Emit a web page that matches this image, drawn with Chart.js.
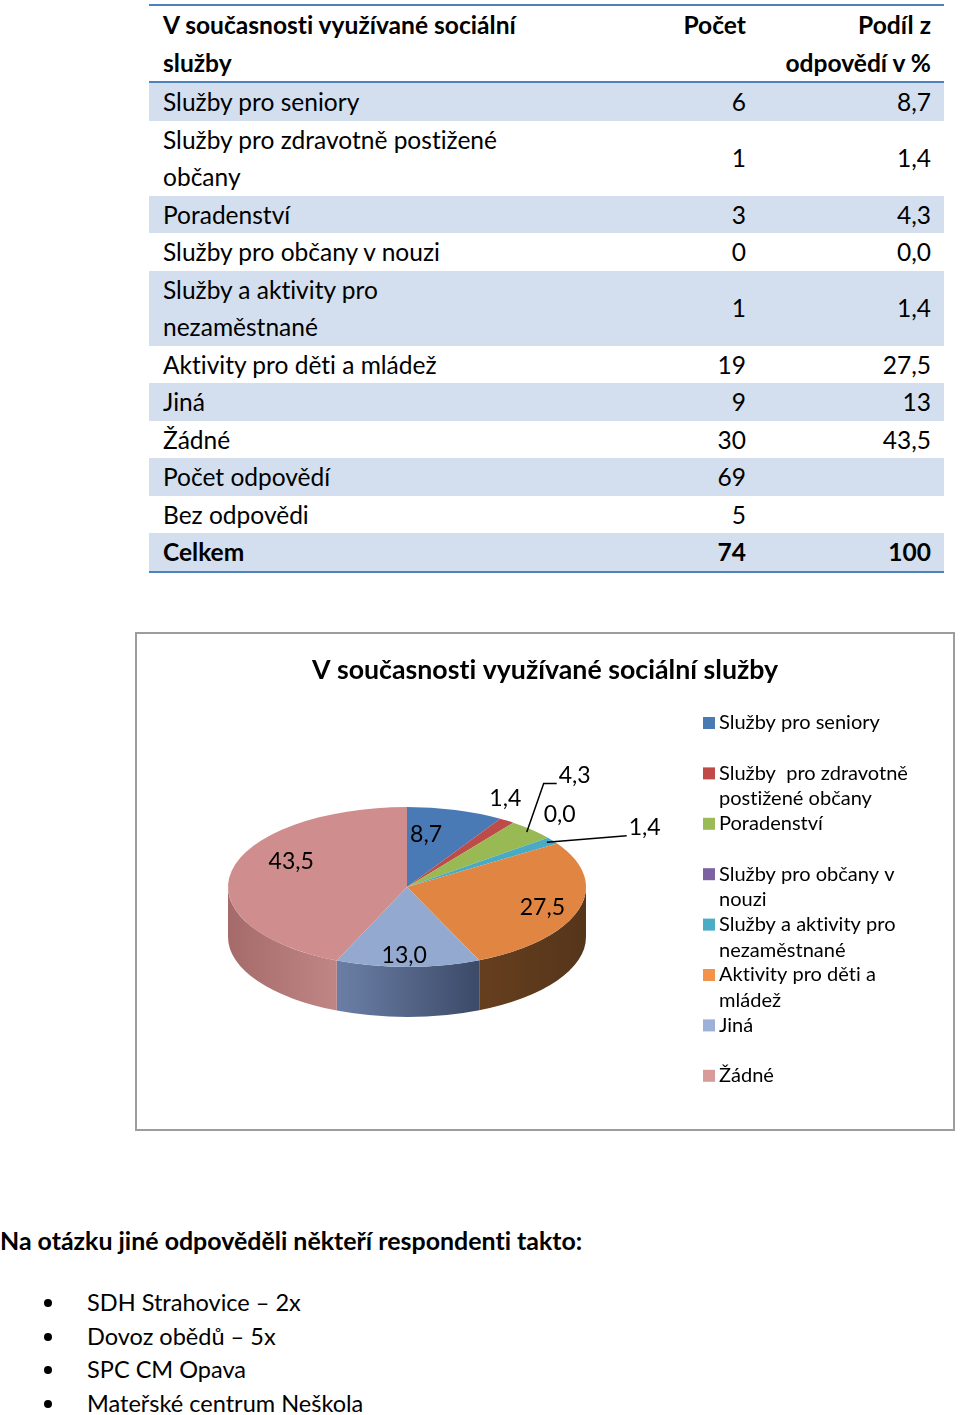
<!DOCTYPE html>
<html lang="cs">
<head>
<meta charset="utf-8">
<script src="https://cdn.jsdelivr.net/npm/chart.js@4.4.1/dist/chart.umd.min.js"></script>
<style>
  html,body{margin:0;padding:0;background:#fff;}
  body{width:960px;height:1415px;position:relative;overflow:hidden;font-family:Lato,"Open Sans",sans-serif;color:#000;font-variant-ligatures:none;}
  #tbl{position:absolute;left:149px;top:4px;width:795px;border-collapse:collapse;table-layout:fixed;
       border-top:2px solid #4f81bd;border-bottom:2px solid #4f81bd;}
  #tbl td,#tbl th{padding:0;line-height:37.5px;vertical-align:middle;white-space:normal;}
  #tbl th{font-weight:bold;vertical-align:top;border-bottom:2px solid #4f81bd;}
  #tbl .c1{text-align:left;padding-left:14px;padding-right:29px;}
  #tbl .c2{text-align:right;padding-right:14px;}
  #tbl .c3{text-align:right;padding-right:13px;}
  #tbl tr.sh td{background:#d3dfee;}
  #tbl tr.bold td{font-weight:bold;}
  #box{position:absolute;left:135px;top:632px;width:816px;height:495px;border:2px solid #9d9d9d;}
  #note{position:absolute;left:0;top:1222px;line-height:36px;font-weight:bold;white-space:nowrap;}
  #list{position:absolute;left:0;top:1286px;margin:0;padding:0;list-style:none;}
  #list li{position:relative;padding-left:87px;line-height:33.7px;white-space:nowrap;}
  #list li::before{content:"";position:absolute;left:44px;top:50%;width:8px;height:8px;margin-top:-4px;border-radius:50%;background:#000;}
</style>
</head>
<body>
<table id="tbl">
  <colgroup><col style="width:411px"><col style="width:200px"><col style="width:184px"></colgroup>
  <thead id="thead"></thead>
  <tbody id="tbody"></tbody>
</table>

<div id="box"><canvas id="chart" width="816" height="495" style="width:816px;height:495px;display:block"></canvas></div>

<div id="note"></div>
<ul id="list"></ul>

<script>
// ---------------- data ----------------
const tableHeader = ['V současnosti využívané sociální služby', 'Počet', 'Podíl z odpovědí v %'];
const categories = ['Služby pro seniory','Služby pro zdravotně postižené občany','Poradenství','Služby pro občany v nouzi','Služby a aktivity pro nezaměstnané','Aktivity pro děti a mládež','Jiná','Žádné'];
const counts = [6, 1, 3, 0, 1, 19, 9, 30];
const percents = [8.7, 1.4, 4.3, 0.0, 1.4, 27.5, 13.0, 43.5];
const percentTexts = ['8,7','1,4','4,3','0,0','1,4','27,5','13','43,5'];
const summaryLabels = ['Počet odpovědí','Bez odpovědi','Celkem'];
const summaryCounts = [69, 5, 74];
const summaryPercents = ['', '', '100'];
const chartTitle = 'V současnosti využívané sociální služby';
const legendLabels = ['Služby pro seniory','Služby  pro zdravotně\npostižené občany','Poradenství','Služby pro občany v\nnouzi','Služby a aktivity pro\nnezaměstnané','Aktivity pro děti a\nmládež','Jiná','Žádné'];
const noteTitle = 'Na otázku jiné odpověděli někteří respondenti takto:';
const noteItems = ['SDH Strahovice – 2x','Dovoz obědů – 5x','SPC CM Opava','Mateřské centrum Neškola'];

// ---------------- styles ----------------
const FAM = 'Lato';
const faceColors = ['#4a7ab5','#bd4b48','#98b954','#7d62a0','#49aac4','#e08542','#94a9d0','#d08d8d'];
const legendColors = ['#4a7ab4','#be4b48','#9bbb59','#7c62a0','#4bacc6','#f29349','#9cb0d8','#d99a9a'];
const sideLeft  = ['#3b5f8d','#8f3735','#728a40','#5c4777','#367f93','#663f1e','#6b7fa6','#a56a6a'];
const sideRight = ['#2e4a6e','#7a2e2c','#5e7234','#4b3a62','#2c6878','#55351a','#3c4a68','#c08585'];

const mctx = document.createElement('canvas').getContext('2d');
function fitPx(text, weight, target){
  mctx.font = weight + ' 100px ' + FAM;
  return 100 * target / mctx.measureText(text).width;
}
const tablePx  = fitPx('Služby pro seniory', 'normal', 197);
const headPx   = fitPx('V současnosti využívané sociální', 'bold', 355);
const titlePx  = fitPx(chartTitle, 'bold', 467);
const legendPx = fitPx('Služby pro seniory', 'normal', 161);
const labelPx  = fitPx('13,0', 'normal', 42) * 1.08;
const notePx   = fitPx(noteTitle, 'bold', 583);
const listPx   = fitPx('SDH Strahovice – 2x', 'normal', 214);

// ---------------- table ----------------
const tbl = document.getElementById('tbl');
tbl.style.fontSize = tablePx + 'px';
document.getElementById('thead').innerHTML =
  '<tr><th class="c1" style="font-size:'+headPx+'px">'+tableHeader[0]+'</th><th class="c2" style="font-size:'+headPx+'px">'+tableHeader[1]+
  '</th><th class="c3" style="font-size:'+headPx+'px">'+tableHeader[2].replace(' odpovědí','<br>odpovědí')+'</th></tr>';
let rows = '';
categories.forEach((c,i)=>{
  rows += '<tr class="'+(i%2===0?'sh':'')+'"><td class="c1">'+c+'</td><td class="c2">'+counts[i]+'</td><td class="c3">'+percentTexts[i]+'</td></tr>';
});
summaryLabels.forEach((c,i)=>{
  const idx = categories.length + i;
  const cls = (idx%2===0?'sh':'') + (i===summaryLabels.length-1?' bold':'');
  rows += '<tr class="'+cls+'"><td class="c1">'+c+'</td><td class="c2">'+summaryCounts[i]+'</td><td class="c3">'+summaryPercents[i]+'</td></tr>';
});
document.getElementById('tbody').innerHTML = rows;

// ---------------- note ----------------
const note = document.getElementById('note');
note.textContent = noteTitle; note.style.fontSize = notePx + 'px';
const list = document.getElementById('list');
list.style.fontSize = listPx + 'px';
list.innerHTML = noteItems.map(t=>'<li>'+t+'</li>').join('');

// ---------------- chart ----------------
const K = 80/179;      // vertical squash of the pie (tilt)
const DEPTH = 50;      // visible thickness in px
// label placement relative to each slice: radius factor and angular shift (deg)
const labelPlace = {
  0:{r:0.66,da:-6.4},
  1:{r:1.23,da:-7.4},
  2:{r:1.68,da:-10.3,line:true,elbow:13},
  3:{r:1.24,da:-8.5},
  4:{r:1.52,da:6.4,line:true,elbow:0},
  5:{r:0.80,da:2.4},
  6:{r:0.86,da:1.4},
  7:{r:0.72,da:14.5}
};
const fmt = v => v.toFixed(1).replace('.', ',');

const pie3d = {
  id: 'pie3d',
  beforeDatasetsDraw(chart){
    const ctx = chart.ctx;
    const meta = chart.getDatasetMeta(0);
    const cx = meta.data[0].x, cy = meta.data[0].y;
    ctx.save();
    ctx.translate(cx, cy); ctx.scale(1, K); ctx.translate(-cx, -cy);
    const d = DEPTH / K;
    meta.data.forEach((arc, i)=>{
      const p = arc.getProps(['startAngle','endAngle','outerRadius']);
      const s = Math.max(p.startAngle, 0), e = Math.min(p.endAngle, Math.PI);
      if (e <= s) return;
      const r = p.outerRadius;
      const xl = cx + r*Math.cos(e), xr = cx + r*Math.cos(s);
      const g = ctx.createLinearGradient(xl, 0, xr, 0);
      g.addColorStop(0, sideLeft[i]); g.addColorStop(1, sideRight[i]);
      ctx.beginPath();
      ctx.arc(cx, cy, r, s, e, false);
      ctx.arc(cx, cy + d, r, e, s, true);
      ctx.closePath();
      ctx.fillStyle = g; ctx.fill();
    });
  },
  afterDatasetsDraw(chart){
    const ctx = chart.ctx;
    ctx.restore();
    const meta = chart.getDatasetMeta(0);
    const vals = chart.data.datasets[0].data;
    ctx.save();
    ctx.font = labelPx + 'px ' + FAM;
    ctx.fillStyle = '#000'; ctx.strokeStyle = '#000'; ctx.lineWidth = 1.5;
    ctx.textAlign = 'center'; ctx.textBaseline = 'middle';
    meta.data.forEach((arc, i)=>{
      const p = arc.getProps(['x','y','startAngle','endAngle','outerRadius']);
      const mid = (p.startAngle + p.endAngle)/2;
      const txt = fmt(vals[i]);
      const o = labelPlace[i];
      const a = mid + o.da*Math.PI/180;
      const lx = p.x + o.r*p.outerRadius*Math.cos(a);
      const ly = p.y + o.r*p.outerRadius*Math.sin(a)*K;
      if (o.line){
        const hw = ctx.measureText(txt).width/2;
        const sx = p.x + 0.96*p.outerRadius*Math.cos(mid);
        const sy = p.y + 0.96*p.outerRadius*Math.sin(mid)*K;
        const ex = lx - hw - 2, ey = ly + 8;
        ctx.beginPath();
        ctx.moveTo(sx, sy);
        ctx.lineTo(ex - o.elbow, ey);
        ctx.lineTo(ex, ey);
        ctx.stroke();
      }
      ctx.fillText(txt, lx, ly);
    });
    ctx.restore();
  },
  afterDraw(chart){
    const ctx = chart.ctx;
    ctx.save();
    ctx.textRendering = 'optimizeSpeed';
    ctx.fillStyle = '#000';
    ctx.textBaseline = 'middle';
    // title
    ctx.font = 'bold ' + titlePx + 'px ' + FAM;
    ctx.textAlign = 'center';
    ctx.fillText(chartTitle, chart.width/2, 36);
    // legend
    ctx.font = legendPx + 'px ' + FAM;
    ctx.textAlign = 'left';
    chart.data.labels.forEach((lab, i)=>{
      const y0 = 89 + i*50.4;
      ctx.fillStyle = legendColors[i];
      ctx.fillRect(566, y0 - 6, 12, 12);
      ctx.fillStyle = '#000';
      lab.split('\n').forEach((ln, j)=> ctx.fillText(ln, 582, y0 + j*25.5));
    });
    ctx.restore();
  }
};

new Chart(document.getElementById('chart'), {
  type: 'pie',
  data: {
    labels: legendLabels,
    datasets: [{ data: percents, backgroundColor: faceColors, borderWidth: 0, clip: false }]
  },
  options: {
    responsive: false,
    animation: false,
    devicePixelRatio: 1,
    events: [],
    layout: { padding: { left: 91, top: 74, right: 367, bottom: 63 } },
    plugins: { legend: { display: false }, tooltip: { enabled: false }, title: { display: false } }
  },
  plugins: [pie3d]
});
</script>
</body>
</html>
